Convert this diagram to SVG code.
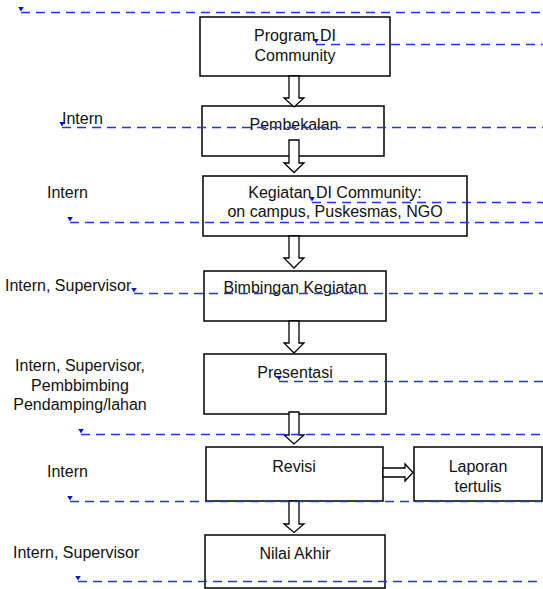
<svg xmlns="http://www.w3.org/2000/svg" width="543" height="589" viewBox="0 0 543 589">
<defs>
<style>
.box{fill:#ffffff;stroke:#000000;stroke-width:1.5}
.blk{fill:#ffffff;stroke:#000000;stroke-width:1.3;stroke-linejoin:miter}
.t{font-family:"Liberation Sans",Arial,sans-serif;font-size:16px;fill:#111111}
.c{text-anchor:middle}
.dash{fill:none;stroke:#1f33f2;stroke-width:1.5;stroke-dasharray:9 6;marker-start:url(#tri)}
</style>
<marker id="tri" viewBox="0 0 6 6" refX="3" refY="6" markerWidth="6" markerHeight="6" markerUnits="userSpaceOnUse" orient="0">
<path d="M0,0 L6,0 L3,5 Z" fill="#0010d0" stroke="none"/>
</marker>
</defs>
<g id="labels">
<text class="t" x="62" y="124">Intern</text>
<text class="t" x="47" y="198">Intern</text>
<text class="t" x="5" y="291">Intern, Supervisor</text>
<text class="t c" x="80" y="371">Intern, Supervisor,</text>
<text class="t c" x="80" y="391">Pembbimbing</text>
<text class="t c" x="80" y="410">Pendamping/lahan</text>
<text class="t" x="47" y="477">Intern</text>
<text class="t" x="13" y="558">Intern, Supervisor</text>
</g>
<g id="node-program">
<rect class="box" x="200" y="17" width="190" height="59"/>
<text class="t c" x="295" y="41">Program DI</text>
<text class="t c" x="295" y="61">Community</text>
</g>
<g id="node-pembekalan">
<rect class="box" x="202" y="106" width="182" height="50"/>
<text class="t c" x="294" y="130">Pembekalan</text>
</g>
<g id="node-kegiatan">
<rect class="box" x="203" y="176" width="264" height="60"/>
<text class="t c" x="335" y="198">Kegiatan DI Community:</text>
<text class="t c" x="335" y="217">on campus, Puskesmas, NGO</text>
</g>
<g id="node-bimbingan">
<rect class="box" x="204" y="271" width="182" height="50"/>
<text class="t c" x="295" y="293">Bimbingan Kegiatan</text>
</g>
<g id="node-presentasi">
<rect class="box" x="204" y="354" width="182" height="60"/>
<text class="t c" x="295" y="378">Presentasi</text>
</g>
<g id="node-revisi">
<rect class="box" x="206" y="447" width="177" height="54"/>
<text class="t c" x="294" y="472">Revisi</text>
</g>
<g id="node-laporan">
<rect class="box" x="414" y="447" width="128" height="54"/>
<text class="t c" x="478" y="472">Laporan</text>
<text class="t c" x="478" y="492">tertulis</text>
</g>
<g id="node-nilai">
<rect class="box" x="205" y="535" width="180" height="53"/>
<text class="t c" x="295" y="559">Nilai Akhir</text>
</g>
<g id="connectors">
<path class="blk" d="M289,76 L299,76 L299,98 L304,98 L294,107 L284,98 L289,98 Z"/>
<path class="blk" d="M289,140 L299,140 L299,163 L304,163 L294,172.5 L284,163 L289,163 Z"/>
<path class="blk" d="M289,236 L299,236 L299,258 L304,258 L294,268 L284,258 L289,258 Z"/>
<path class="blk" d="M289,321 L299,321 L299,343 L304,343 L294,353 L284,343 L289,343 Z"/>
<path class="blk" d="M289,412 L299,412 L299,435 L304,435 L294,444 L284,435 L289,435 Z"/>
<path class="blk" d="M289,501 L299,501 L299,524 L304,524 L294,532.5 L284,524 L289,524 Z"/>
<path class="blk" d="M383,468 L405,468 L405,464 L413,472.5 L405,481 L405,477 L383,477 Z"/>
</g>
<g id="dashed-lines">
<path class="dash" d="M21,12.5 H543"/>
<path class="dash" d="M316,44.5 H543"/>
<path class="dash" d="M62,127.5 H543"/>
<path class="dash" d="M312,202.5 H543"/>
<path class="dash" d="M70,222.5 H543"/>
<path class="dash" d="M134,293.5 H543"/>
<path class="dash" d="M279,381.5 H543"/>
<path class="dash" d="M81,434.5 H543"/>
<path class="dash" d="M70,501.5 H543"/>
<path class="dash" d="M78,581.5 H543"/>
</g>
</svg>
